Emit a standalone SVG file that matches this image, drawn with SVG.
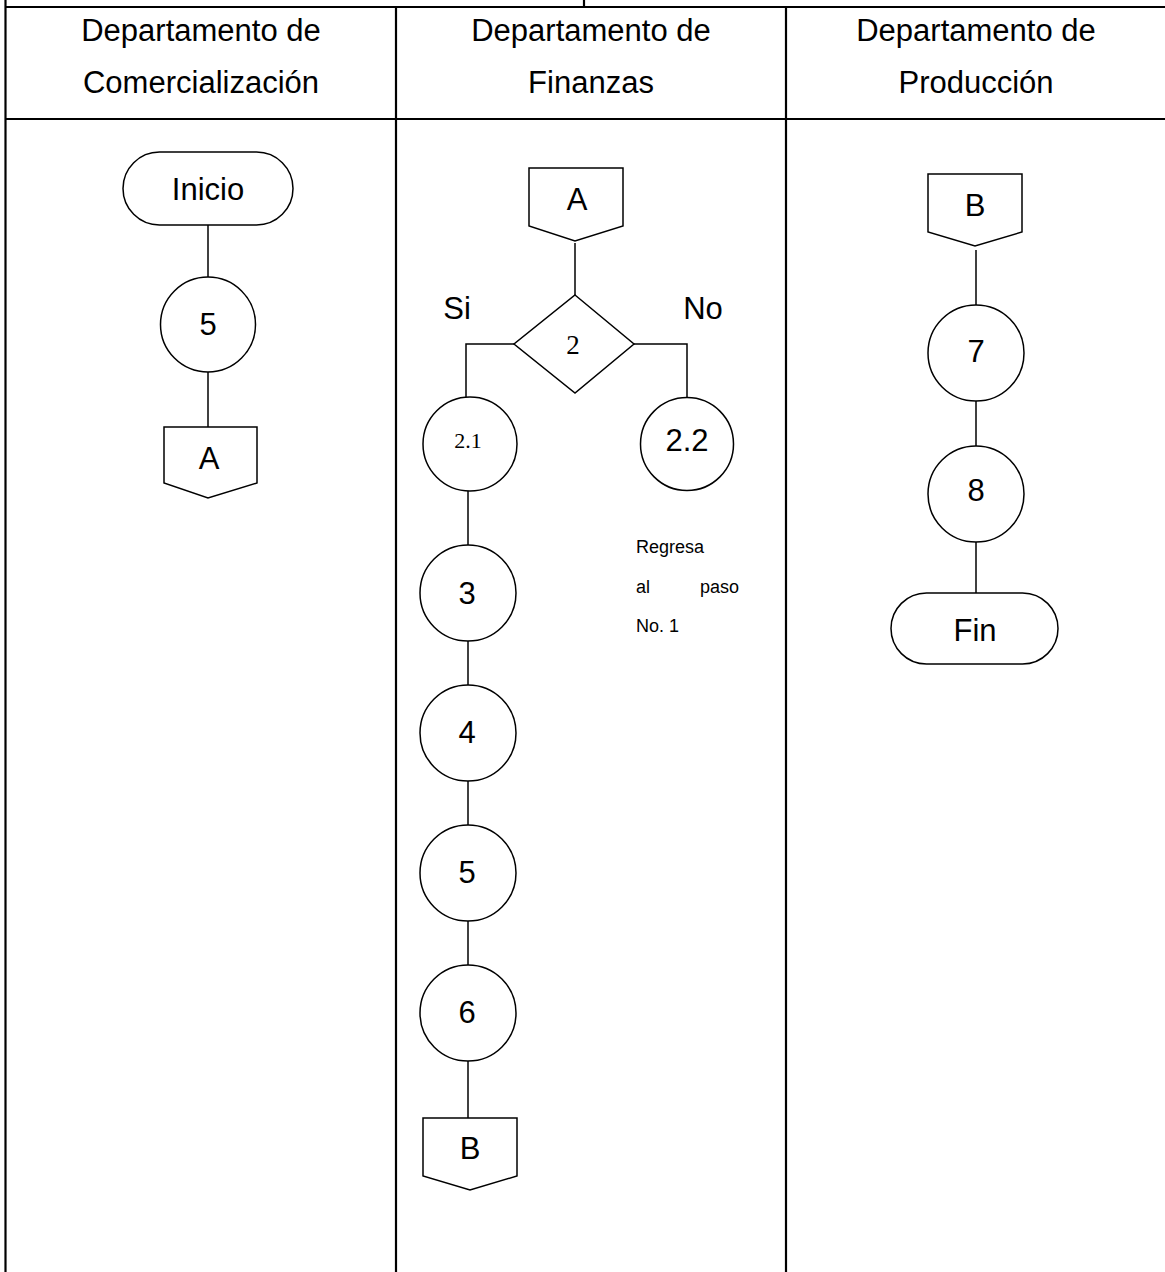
<svg xmlns="http://www.w3.org/2000/svg" width="1165" height="1272" viewBox="0 0 1165 1272">
<style>
.grid{stroke:#000;stroke-width:2.2;fill:none}
.shape{stroke:#000;stroke-width:1.5;fill:#fff}
.conn{stroke:#000;stroke-width:1.5;fill:none}
.hd{font-family:"Liberation Sans",Arial,sans-serif;font-size:31px;fill:#000;text-anchor:middle}
.lb{font-family:"Liberation Sans",Arial,sans-serif;font-size:31px;fill:#000;text-anchor:middle;dominant-baseline:central}
.sr{font-family:"Liberation Serif","Times New Roman",serif;fill:#000;text-anchor:middle;dominant-baseline:central}
.nt{font-family:"Liberation Sans",Arial,sans-serif;font-size:18px;fill:#000}
</style>
<rect width="1165" height="1272" fill="#fff"/>
<g id="table">
<line class="grid" x1="5.5" y1="0" x2="5.5" y2="1272"/>
<line class="grid" x1="584" y1="0" x2="584" y2="7"/>
<line class="grid" x1="5" y1="7" x2="1165" y2="7"/>
<line class="grid" x1="5" y1="119" x2="1165" y2="119"/>
<line class="grid" x1="396" y1="7" x2="396" y2="1272"/>
<line class="grid" x1="786" y1="7" x2="786" y2="1272"/>
<text class="hd" x="201" y="41">Departamento de</text>
<text class="hd" x="201" y="93">Comercialización</text>
<text class="hd" x="591" y="41">Departamento de</text>
<text class="hd" x="591" y="93">Finanzas</text>
<text class="hd" x="976" y="41">Departamento de</text>
<text class="hd" x="976" y="93">Producción</text>
</g>
<g id="connectors">
<line class="conn" x1="208" y1="225" x2="208" y2="277"/>
<line class="conn" x1="208" y1="372" x2="208" y2="427"/>
<line class="conn" x1="575" y1="243" x2="575" y2="295"/>
<polyline class="conn" points="514,344 466,344 466,397"/>
<polyline class="conn" points="634,344 687,344 687,397"/>
<line class="conn" x1="468" y1="491" x2="468" y2="545"/>
<line class="conn" x1="468" y1="641" x2="468" y2="685"/>
<line class="conn" x1="468" y1="781" x2="468" y2="825"/>
<line class="conn" x1="468" y1="921" x2="468" y2="965"/>
<line class="conn" x1="468" y1="1061" x2="468" y2="1118"/>
<line class="conn" x1="976" y1="250" x2="976" y2="305"/>
<line class="conn" x1="976" y1="401" x2="976" y2="446"/>
<line class="conn" x1="976" y1="542" x2="976" y2="593"/>
</g>
<g id="inicio"><rect class="shape" x="123" y="152" width="170" height="73" rx="36.5"/><text class="lb" x="208" y="189">Inicio</text></g>
<g id="c5a"><circle class="shape" cx="208" cy="324.5" r="47.5"/><text class="lb" x="208" y="324">5</text></g>
<g id="offA1"><polygon class="shape" points="164,427 257,427 257,483 208,498 164,483"/><text class="lb" x="209" y="458">A</text></g>
<g id="offA2"><polygon class="shape" points="529,168 623,168 623,226 575,241 529,226"/><text class="lb" x="577" y="199">A</text></g>
<g id="dec2"><polygon class="shape" points="575,295 634,344 575,393 514,344"/><text class="sr" x="573" y="345" font-size="27">2</text></g>
<text class="lb" x="457" y="308">Si</text>
<text class="lb" x="703" y="308">No</text>
<g id="c21"><circle class="shape" cx="470" cy="444" r="47"/><text class="sr" x="468" y="440" font-size="22">2.1</text></g>
<g id="c22"><circle class="shape" cx="687" cy="444" r="46.5"/><text class="lb" x="687" y="440" font-size="23">2.2</text></g>
<g id="note"><text class="nt" x="636" y="553">Regresa</text><text class="nt" x="636" y="593">al</text><text class="nt" x="739" y="593" text-anchor="end">paso</text><text class="nt" x="636" y="632">No. 1</text></g>
<g id="c3"><circle class="shape" cx="468" cy="593" r="48"/><text class="lb" x="467" y="593">3</text></g>
<g id="c4"><circle class="shape" cx="468" cy="733" r="48"/><text class="lb" x="467" y="732">4</text></g>
<g id="c5b"><circle class="shape" cx="468" cy="873" r="48"/><text class="lb" x="467" y="872">5</text></g>
<g id="c6"><circle class="shape" cx="468" cy="1013" r="48"/><text class="lb" x="467" y="1012">6</text></g>
<g id="offB1"><polygon class="shape" points="423,1118 517,1118 517,1176 470,1190 423,1176"/><text class="lb" x="470" y="1148">B</text></g>
<g id="offB2"><polygon class="shape" points="928,174 1022,174 1022,232 975,246 928,232"/><text class="lb" x="975" y="205">B</text></g>
<g id="c7"><circle class="shape" cx="976" cy="353" r="48"/><text class="lb" x="976" y="351">7</text></g>
<g id="c8"><circle class="shape" cx="976" cy="494" r="48"/><text class="lb" x="976" y="490">8</text></g>
<g id="fin"><rect class="shape" x="891" y="593" width="167" height="71" rx="35.5"/><text class="lb" x="975" y="630">Fin</text></g>
</svg>
